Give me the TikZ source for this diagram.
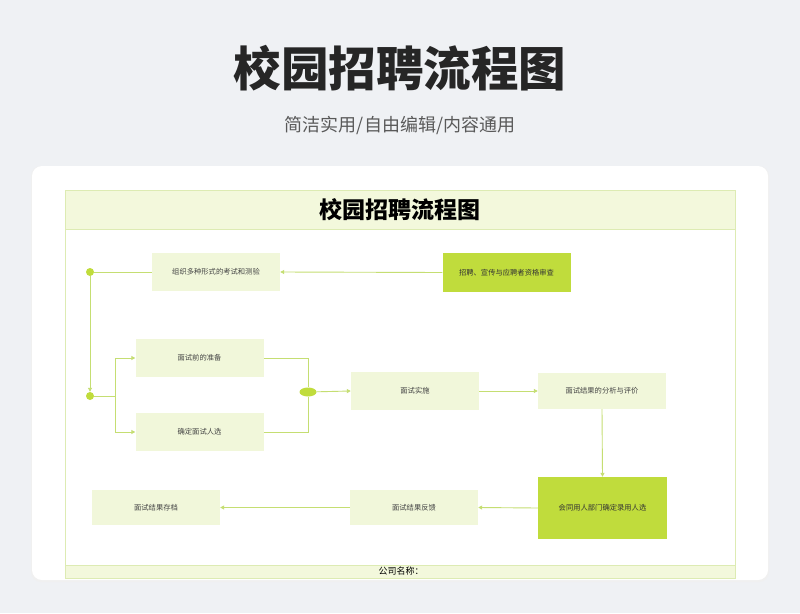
\documentclass[tikz,border=0pt]{standalone}
\usepackage{fontspec}
\setmainfont{Noto Sans CJK SC}
\newfontfamily\cjk{Noto Sans CJK SC}
\usetikzlibrary{shapes.geometric,arrows.meta}
\definecolor{bgc}{HTML}{EFF1F4}
\definecolor{lime}{HTML}{C0DC3C}
\definecolor{pale}{HTML}{F1F7DA}
\definecolor{linec}{HTML}{C5DE72}
\definecolor{band}{HTML}{F3F8DC}
\definecolor{bandline}{HTML}{DDEBB3}
\definecolor{txt}{HTML}{444444}
\tikzset{
  box/.style={fill=pale, draw=none, minimum width=128pt, minimum height=38pt, inner sep=0pt,
    font=\cjk\fontsize{7.3}{9}\selectfont, text=txt},
  keybox/.style={box, fill=lime, text=black!80},
  dotn/.style={circle, fill=lime, minimum size=8pt, inner sep=0pt},
  ell/.style={ellipse, fill=lime, minimum width=17pt, minimum height=9pt, inner sep=0pt},
  conn/.style={draw=linec, line width=0.9pt},
  arr/.style={conn, -{Triangle[length=4pt,width=4pt]}},
}
\begin{document}
\begin{tikzpicture}[x=1pt,y=-1pt]
\useasboundingbox (0,0) rectangle (800,613);
\fill[bgc] (0,0) rectangle (800,613);
% headings
\node[font=\cjk\bfseries\fontsize{47.5}{54}\selectfont, text=black!85] (title) at (400,68) {校园招聘流程图};
\node[font=\cjk\fontsize{18}{22}\selectfont, text=black!65] (sub) at (400,125) {简洁实用/自由编辑/内容通用};
% card
\fill[black!6, rounded corners=10pt] (31,166) rectangle (769,582);
\fill[white, rounded corners=10pt] (32,166) rectangle (768,580);
% inner frame
\draw[bandline, line width=0.6pt] (65,190) rectangle (735,578);
\filldraw[fill=band, draw=bandline, line width=0.6pt] (65,190) rectangle (735,229);
\filldraw[fill=band, draw=bandline, line width=0.6pt] (65,565) rectangle (735,578);
\node[font=\cjk\bfseries\fontsize{23}{26}\selectfont, text=black] (ititle) at (400,210) {校园招聘流程图};
\node[font=\cjk\fontsize{9}{11}\selectfont, text=black, anchor=west] (company) at (375,571.5) {公司名称：};
% nodes
\node[box] (n1) at (216,272) {组织多种形式的考试和测验};
\node[keybox, minimum height=39pt] (n2) at (506.5,272.5) {招聘、宣传与应聘者资格审查};
\node[box] (n3) at (199.5,358) {面试前的准备};
\node[box] (n4) at (199.5,432) {确定面试人选};
\node[box] (n5) at (415,391) {面试实施};
\node[box, minimum height=36pt] (n6) at (602,391) {面试结果的分析与评价};
\node[keybox, minimum width=129pt, minimum height=62pt] (n7) at (602.5,508) {会同用人部门确定录用人选};
\node[box, minimum height=35pt] (n8) at (414,507.5) {面试结果反馈};
\node[box, minimum height=35pt] (n9) at (156,507.5) {面试结果存档};
\node[dotn] (d1) at (90,272) {};
\node[dotn] (d2) at (90,396) {};
\node[ell] (e) at (308,392) {};
\coordinate (j) at (115,396);
% connectors
\draw[arr] (n2.west) -- (n1.east);
\draw[conn] (n1.west) -- (d1);
\draw[arr] (d1) -- (d2);
\draw[conn] (d2) -- (j);
\draw[arr] (j) |- (n3.west);
\draw[arr] (j) |- (n4.west);
\draw[conn] (n3.east) -| (e);
\draw[conn] (n4.east) -| (e);
\draw[arr] (e) -- (n5.west);
\draw[arr] (n5.east) -- (n6.west);
\draw[arr] (n6.south) -- (n7.north);
\draw[arr] (n7.west) -- (n8.east);
\draw[arr] (n8.west) -- (n9.east);
\end{tikzpicture}
\end{document}
